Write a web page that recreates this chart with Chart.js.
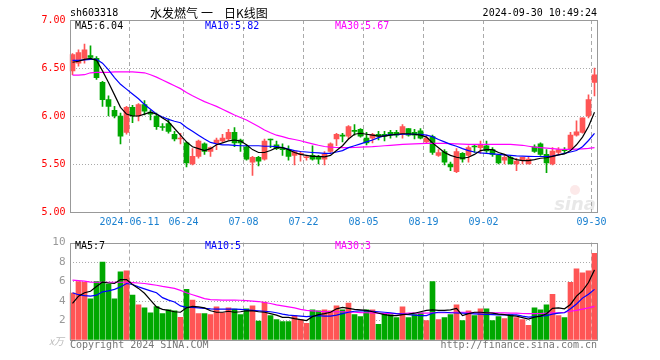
<!DOCTYPE html>
<html>
<head>
<meta charset="utf-8">
<script src="https://cdn.jsdelivr.net/npm/chart.js@4"></script>
<style>
  html, body { margin: 0; padding: 0; background: #fff; }
  #wrap { position: relative; width: 660px; height: 360px; }
  canvas { position: absolute; left: 0; }
  #kline { top: 0; }
  #vol { top: 232px; }
</style>
</head>
<body>
<div id="wrap">
  <canvas id="kline" width="660" height="232"></canvas>
  <canvas id="vol" width="660" height="128"></canvas>
</div>
<script>
const dates = ['05-27','05-28','05-29','05-30','05-31',
  '06-03','06-04','06-05','06-06','06-07','06-11','06-12','06-13','06-14','06-17','06-18','06-19','06-20','06-21','06-24','06-25','06-26','06-27','06-28',
  '07-01','07-02','07-03','07-04','07-05','07-08','07-09','07-10','07-11','07-12','07-15','07-16','07-17','07-18','07-19','07-22','07-23','07-24','07-25','07-26','07-29','07-30','07-31',
  '08-01','08-02','08-05','08-06','08-07','08-08','08-09','08-12','08-13','08-14','08-15','08-16','08-19','08-20','08-21','08-22','08-23','08-26','08-27','08-28','08-29','08-30',
  '09-02','09-03','09-04','09-05','09-06','09-09','09-10','09-11','09-12','09-13','09-18','09-19','09-20','09-23','09-24','09-25','09-26','09-27','09-30'];

const tickDates = ['06-11','06-24','07-08','07-22','08-05','08-19','09-02','09-30'];
const tickTexts = ['2024-06-11','06-24','07-08','07-22','08-05','08-19','09-02','09-30'];

const opens = [6.47,6.55,6.60,6.63,6.60,6.35,6.17,6.06,6.00,5.83,
  6.09,6.00,6.12,6.04,6.00,5.89,5.92,5.81,5.76,5.72,
  5.50,5.58,5.71,5.63,5.715,5.74,5.76,5.83,5.75,5.68,
  5.52,5.57,5.55,5.76,5.70,5.655,5.65,5.59,5.60,5.565,
  5.59,5.57,5.55,5.63,5.76,5.80,5.79,5.845,5.86,5.77,
  5.77,5.81,5.81,5.83,5.83,5.81,5.87,5.83,5.845,5.73,
  5.785,5.59,5.63,5.50,5.42,5.61,5.59,5.68,5.67,5.69,
  5.65,5.59,5.54,5.57,5.50,5.54,5.50,5.68,5.71,5.60,
  5.50,5.62,5.645,5.66,5.80,5.83,6.00,6.35];

const highs = [6.65,6.69,6.75,6.73,6.62,6.36,6.21,6.10,6.03,6.10,
  6.11,6.13,6.16,6.06,6.03,5.92,5.97,5.84,5.82,5.73,
  5.66,5.75,5.72,5.68,5.77,5.81,5.86,5.88,5.76,5.70,
  5.58,5.58,5.76,5.76,5.74,5.71,5.69,5.64,5.63,5.59,
  5.69,5.59,5.63,5.72,5.82,5.82,5.90,5.91,5.87,5.83,
  5.82,5.84,5.84,5.85,5.85,5.91,5.87,5.86,5.87,5.80,
  5.80,5.65,5.65,5.52,5.66,5.62,5.69,5.70,5.74,5.74,
  5.67,5.60,5.59,5.58,5.56,5.57,5.57,5.70,5.72,5.65,
  5.67,5.67,5.67,5.83,5.95,5.98,6.22,6.50];

const lows = [6.43,6.52,6.55,6.59,6.38,6.10,6.00,5.98,5.71,5.81,
  5.93,5.95,6.01,5.96,5.86,5.85,5.82,5.74,5.71,5.47,
  5.49,5.56,5.60,5.58,5.65,5.73,5.75,5.68,5.63,5.54,
  5.38,5.48,5.54,5.67,5.65,5.59,5.54,5.49,5.53,5.54,
  5.54,5.50,5.49,5.62,5.69,5.73,5.76,5.80,5.78,5.70,
  5.72,5.75,5.74,5.77,5.78,5.77,5.79,5.76,5.76,5.72,
  5.60,5.58,5.49,5.43,5.41,5.52,5.52,5.62,5.61,5.62,
  5.58,5.50,5.50,5.50,5.43,5.50,5.50,5.62,5.59,5.41,
  5.49,5.60,5.61,5.65,5.79,5.82,5.98,6.21];

const closes = [6.64,6.66,6.69,6.61,6.40,6.17,6.10,6.00,5.79,6.09,
  6.00,6.12,6.05,6.02,5.89,5.88,5.84,5.76,5.77,5.51,
  5.58,5.74,5.63,5.67,5.75,5.77,5.83,5.72,5.72,5.55,
  5.57,5.53,5.74,5.75,5.66,5.65,5.58,5.63,5.605,5.57,
  5.55,5.55,5.60,5.71,5.81,5.79,5.89,5.84,5.79,5.72,
  5.81,5.79,5.79,5.80,5.80,5.89,5.80,5.80,5.77,5.77,
  5.62,5.62,5.52,5.47,5.63,5.55,5.67,5.677,5.695,5.635,
  5.60,5.51,5.57,5.50,5.53,5.57,5.55,5.63,5.60,5.51,
  5.635,5.65,5.64,5.80,5.835,5.98,6.17,6.43];

const ma5 = [6.56,6.57,6.59,6.60,6.58,6.47,6.35,6.22,6.09,6.02,
  6.00,6.00,6.02,6.04,6.02,5.98,5.94,5.87,5.80,5.73,
  5.68,5.66,5.64,5.66,5.70,5.72,5.74,5.75,5.74,5.70,
  5.65,5.62,5.62,5.64,5.67,5.67,5.65,5.62,5.60,5.59,
  5.58,5.58,5.575,5.59,5.64,5.69,5.76,5.81,5.82,5.81,
  5.80,5.79,5.79,5.80,5.81,5.815,5.815,5.81,5.80,5.78,
  5.72,5.67,5.62,5.59,5.57,5.56,5.57,5.60,5.64,5.65,
  5.65,5.62,5.60,5.565,5.545,5.535,5.535,5.545,5.56,5.565,
  5.58,5.595,5.605,5.64,5.70,5.78,5.89,6.04];

const ma10 = [6.58,6.58,6.585,6.59,6.59,6.55,6.48,6.40,6.33,6.28,
  6.23,6.18,6.12,6.07,6.02,5.99,5.965,5.945,5.93,5.88,
  5.84,5.80,5.76,5.725,5.71,5.70,5.70,5.695,5.69,5.69,
  5.69,5.69,5.685,5.685,5.68,5.67,5.655,5.64,5.63,5.625,
  5.62,5.615,5.61,5.61,5.625,5.64,5.67,5.69,5.71,5.73,
  5.75,5.775,5.795,5.805,5.805,5.81,5.81,5.81,5.81,5.80,
  5.785,5.755,5.73,5.705,5.685,5.66,5.64,5.625,5.615,5.61,
  5.605,5.60,5.595,5.59,5.585,5.583,5.58,5.578,5.578,5.578,
  5.583,5.595,5.61,5.625,5.64,5.68,5.745,5.82];

const ma30 = [6.425,6.425,6.43,6.45,6.455,6.455,6.455,6.46,6.46,6.46,
  6.46,6.455,6.45,6.43,6.405,6.375,6.345,6.315,6.285,6.245,
  6.21,6.18,6.15,6.125,6.10,6.07,6.04,6.01,5.985,5.958,
  5.924,5.89,5.855,5.826,5.80,5.785,5.767,5.755,5.742,5.726,
  5.71,5.695,5.682,5.676,5.672,5.67,5.67,5.672,5.675,5.678,
  5.68,5.685,5.69,5.695,5.70,5.705,5.708,5.71,5.713,5.715,
  5.715,5.715,5.715,5.712,5.71,5.707,5.705,5.705,5.705,5.705,
  5.705,5.705,5.705,5.705,5.70,5.695,5.685,5.675,5.67,5.665,
  5.66,5.655,5.652,5.652,5.655,5.658,5.662,5.67];

// volume, x万
const volumes = [4.83,6.0,5.93,4.23,6.0,8.0,5.73,4.23,7.0,7.1,
  4.6,3.6,3.3,2.8,3.43,2.7,3.1,3.0,2.33,5.2,
  4.1,2.7,2.7,2.6,3.4,2.8,3.3,3.17,2.6,3.2,
  3.5,1.93,3.9,2.5,2.1,1.9,1.9,2.5,2.1,1.7,
  3.1,3.0,3.1,3.0,3.5,3.1,3.8,2.6,2.4,3.1,
  3.1,1.6,2.7,2.6,2.3,3.4,2.3,2.6,2.8,2.0,
  6.0,2.1,2.3,2.6,3.6,2.0,3.0,2.5,3.2,3.2,
  2.0,2.4,2.2,2.6,2.3,2.1,1.5,3.3,3.1,3.6,
  4.7,2.5,2.3,5.93,7.3,6.9,7.1,8.9];

const volMa5 = [3.75,4.5,4.85,5.0,5.5,5.95,5.85,5.8,6.2,6.2,
  5.7,5.3,4.8,4.1,3.4,3.15,3.05,2.9,2.85,3.3,
  3.45,3.4,3.3,3.0,2.85,2.85,2.95,2.85,2.9,3.0,
  3.0,2.9,2.85,2.7,2.55,2.33,2.33,2.2,2.1,2.0,
  2.4,2.6,2.7,2.85,3.2,3.35,3.25,3.15,3.1,3.05,
  2.9,2.75,2.6,2.5,2.5,2.6,2.65,2.75,2.9,3.05,
  3.1,3.05,3.05,3.1,3.25,2.5,2.7,2.85,2.85,2.8,
  2.75,2.65,2.6,2.5,2.45,2.3,2.15,2.35,2.45,2.7,
  3.25,3.3,3.2,3.65,4.5,5.05,5.9,7.2];

const volMa10 = [4.85,4.65,4.55,4.5,4.6,4.95,5.05,5.2,5.45,5.8,
  5.7,5.45,5.25,5.05,4.85,4.35,4.1,3.9,3.5,3.35,
  3.35,3.3,3.25,3.2,3.17,3.17,3.17,3.17,3.15,3.1,
  3.05,3.0,2.95,2.9,2.8,2.65,2.55,2.5,2.45,2.4,
  2.45,2.5,2.45,2.45,2.55,2.7,2.85,2.95,3.0,3.0,
  2.95,2.9,2.85,2.8,2.7,2.65,2.6,2.55,2.5,2.5,
  2.75,2.85,2.85,2.8,2.77,2.75,2.72,2.68,2.65,2.62,
  2.6,2.57,2.57,2.57,2.57,2.45,2.35,2.4,2.45,2.5,
  2.65,2.75,2.8,3.2,3.7,4.3,4.7,5.2];

const volMa30 = [6.15,6.1,6.05,5.95,5.93,5.93,5.93,5.93,5.93,5.93,
  5.9,5.85,5.8,5.72,5.62,5.5,5.4,5.3,5.1,4.85,
  4.65,4.45,4.25,4.15,4.12,4.1,4.1,4.1,4.08,4.05,
  4.0,3.95,3.85,3.75,3.6,3.5,3.4,3.3,3.15,3.05,
  3.0,2.95,2.92,2.9,2.9,2.88,2.86,2.85,2.82,2.8,
  2.78,2.75,2.72,2.7,2.7,2.72,2.75,2.75,2.75,2.75,
  2.8,2.8,2.8,2.82,2.85,2.85,2.85,2.82,2.8,2.8,
  2.78,2.78,2.78,2.75,2.75,2.72,2.7,2.7,2.72,2.75,
  2.78,2.8,2.85,2.95,3.05,3.17,3.3,3.45];

const MONO = '"DejaVu Sans Mono", "Liberation Mono", monospace';
const CJK = '"Noto Sans CJK SC", sans-serif';
const RED = '#ff5555';
const GREEN = '#00a800';
const CLEAR = 'rgba(0,0,0,0)';
const last = dates.length - 1;

const candleColors = closes.map((c, i) => c >= opens[i] ? RED : GREEN);
const tickIdx = tickDates.map(d => dates.indexOf(d));

function xAxis(showLabels) {
  return {
    type: 'category',
    offset: true,
    afterFit: s => { s.height = 20; },
    grid: {
      offset: true,
      drawTicks: false,
      color: c => tickIdx.includes(c.index) ? '#aaa' : CLEAR
    },
    border: { display: false, dash: [4, 3] },
    ticks: {
      display: showLabels,
      autoSkip: false,
      maxRotation: 0,
      padding: 4,
      labelOffset: -3,
      color: '#1a80d0',
      font: { family: MONO, size: 10 },
      callback: (v, i) => {
        const k = tickDates.indexOf(dates[i]);
        return k >= 0 ? tickTexts[k] : '';
      }
    }
  };
}

function line(data, color) {
  return { type: 'line', data, borderColor: color, borderWidth: 1.2, pointRadius: 0, tension: 0, order: 0 };
}

function drawFrame(chart) {
  const { ctx, chartArea: a } = chart;
  ctx.save();
  ctx.strokeStyle = '#999';
  ctx.lineWidth = 1;
  ctx.strokeRect(Math.round(a.left) + 0.5, Math.round(a.top) + 0.5,
    Math.round(a.right - a.left) - 1, Math.round(a.bottom - a.top));
  ctx.restore();
}

function text(ctx, str, x, y, color, font, align) {
  ctx.fillStyle = color;
  ctx.font = font;
  ctx.textAlign = align || 'left';
  ctx.textBaseline = 'middle';
  ctx.fillText(str, x, y);
}

const kDecor = {
  id: 'kDecor',
  beforeDatasetsDraw(chart) {
    const { ctx } = chart;
    ctx.save();
    ctx.fillStyle = 'rgba(235,110,110,0.15)';
    ctx.beginPath();
    ctx.arc(575, 190, 5, 0, Math.PI * 2);
    ctx.fill();
    ctx.font = 'italic bold 18px "DejaVu Sans"';
    ctx.fillStyle = 'rgba(150,150,150,0.22)';
    ctx.textAlign = 'right';
    ctx.textBaseline = 'alphabetic';
    ctx.fillText('sina', 596, 210);
    ctx.restore();
  },
  afterDraw(chart) {
    drawFrame(chart);
    const { ctx } = chart;
    ctx.save();
    const f = '10px ' + MONO;
    text(ctx, 'sh603318', 70, 13, '#000', f);
    const cf = '12px ' + CJK;
    text(ctx, '水发燃气', 150, 13, '#000', cf);
    text(ctx, '一', 201, 13, '#000', cf);
    text(ctx, '日K线图', 224, 13, '#000', cf);
    text(ctx, '2024-09-30 10:49:24', 597, 13, '#000', f, 'right');
    text(ctx, 'MA5:' + ma5[last].toFixed(2), 75, 26, '#000', f);
    text(ctx, 'MA10:' + ma10[last].toFixed(2), 205, 26, '#0000ff', f);
    text(ctx, 'MA30:' + ma30[last].toFixed(2), 335, 26, '#ff00ff', f);
    ctx.restore();
  }
};

const vDecor = {
  id: 'vDecor',
  afterDraw(chart) {
    drawFrame(chart);
    const { ctx } = chart;
    ctx.save();
    const f = '10px ' + MONO;
    text(ctx, 'MA5:' + Math.round(volMa5[last]), 75, 14.5, '#000', f);
    text(ctx, 'MA10:' + Math.round(volMa10[last]), 205, 14.5, '#0000ff', f);
    text(ctx, 'MA30:' + Math.round(volMa30[last]), 335, 14.5, '#ff00ff', f);
    text(ctx, 'x万', 64, 109, '#bbb', 'italic 10px ' + CJK, 'right');
    text(ctx, 'Copyright 2024 SINA.COM', 70, 113.5, '#777', f);
    text(ctx, 'http://finance.sina.com.cn', 597, 113.5, '#777', f, 'right');
    ctx.restore();
  }
};

const common = {
  responsive: false,
  animation: false,
  devicePixelRatio: 1,
  events: [],
  plugins: { legend: { display: false }, tooltip: { enabled: false } }
};

new Chart(document.getElementById('kline'), {
  data: {
    labels: dates,
    datasets: [
      { type: 'bar', data: lows.map((l, i) => [l, highs[i]]), backgroundColor: candleColors,
        barThickness: 1, grouped: false, order: 2 },
      { type: 'bar', data: opens.map((o, i) => [o, closes[i]]), backgroundColor: candleColors,
        barThickness: 5, minBarLength: 1, grouped: false, order: 1 },
      line(ma5, '#000'),
      line(ma10, '#0000ff'),
      line(ma30, '#ff00ff')
    ]
  },
  options: {
    ...common,
    layout: { padding: { top: 20, right: 62.5, left: 0, bottom: 0 } },
    scales: {
      x: xAxis(true),
      y: {
        min: 5, max: 7,
        afterFit: s => { s.width = 69.5; },
        grid: { drawTicks: false, color: c => (c.tick && (c.tick.value === 5 || c.tick.value === 7)) ? CLEAR : '#aaa' },
        border: { display: false, dash: [1, 2] },
        ticks: { stepSize: 0.5, padding: 4, color: '#f00', font: { family: MONO, size: 10 },
          callback: v => v.toFixed(2) }
      }
    }
  },
  plugins: [kDecor]
});

new Chart(document.getElementById('vol'), {
  data: {
    labels: dates,
    datasets: [
      { type: 'bar', data: volumes, backgroundColor: candleColors, barThickness: 5, grouped: false, order: 1 },
      line(volMa5, '#000'),
      line(volMa10, '#0000ff'),
      line(volMa30, '#ff00ff')
    ]
  },
  options: {
    ...common,
    layout: { padding: { top: 8, right: 62.5, left: 0, bottom: 0 } },
    scales: {
      x: xAxis(false),
      y: {
        min: 0, max: 10,
        afterFit: s => { s.width = 69.5; },
        grid: { drawTicks: false, color: c => (c.tick && (c.tick.value === 0 || c.tick.value === 10)) ? CLEAR : '#aaa' },
        border: { display: false, dash: [1, 2] },
        ticks: { stepSize: 2, padding: 4, color: '#999', font: { family: MONO, size: 11 },
          callback: v => v === 0 ? '' : v }
      }
    }
  },
  plugins: [vDecor]
});
</script>
</body>
</html>
